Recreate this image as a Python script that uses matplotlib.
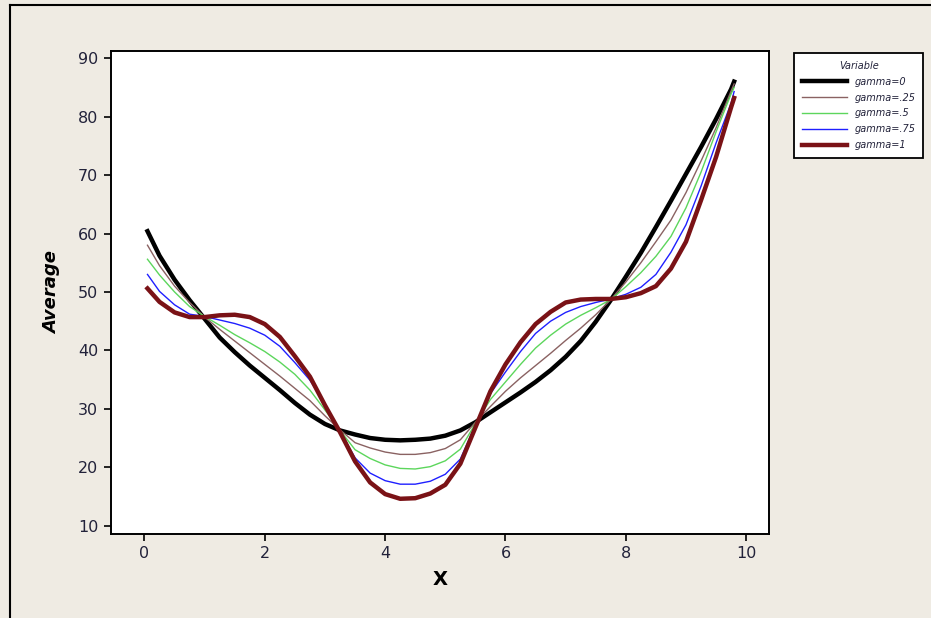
import numpy as np
import matplotlib.pyplot as plt
from matplotlib.lines import Line2D

# values
x = [0.05, 0.25, 0.5, 0.75, 1.0, 1.25, 1.5, 1.75, 2.0, 2.25, 2.5, 2.75, 3.0, 3.25,
     3.5, 3.75, 4.0, 4.25, 4.5, 4.75, 5.0, 5.25, 5.5, 5.75, 6.0, 6.25, 6.5, 6.75,
     7.0, 7.25, 7.5, 7.75, 8.0, 8.25, 8.5, 8.75, 9.0, 9.25, 9.5, 9.75, 9.8]

gamma_0 = [60.4, 56.2, 52.1, 48.6, 45.4, 42.2, 39.7, 37.4, 35.3, 33.2, 31.0, 29.0, 27.4, 26.3,
           25.6, 25.0, 24.7, 24.6, 24.7, 24.9, 25.4, 26.3, 27.7, 29.4, 31.1, 32.8, 34.6, 36.6,
           38.9, 41.6, 44.9, 48.6, 52.6, 56.7, 61.1, 65.6, 70.2, 74.8, 79.6, 84.7, 86.0]
gamma_25 = [58.0, 54.5, 51.0, 48.2, 45.7, 43.6, 41.6, 39.6, 37.6, 35.6, 33.5, 31.4, 28.8, 26.4,
            24.2, 23.3, 22.6, 22.2, 22.2, 22.5, 23.2, 24.7, 27.7, 30.4, 33.0, 35.3, 37.4, 39.5,
            41.7, 43.8, 46.1, 48.7, 51.7, 55.0, 58.6, 62.3, 67.0, 72.4, 78.1, 84.4, 85.6]
gamma_5 = [55.6, 52.9, 50.0, 47.5, 45.8, 44.3, 42.7, 41.3, 39.8, 38.0, 35.9, 33.2, 29.8, 26.3,
           23.0, 21.5, 20.4, 19.8, 19.7, 20.1, 21.1, 23.1, 27.5, 31.6, 34.6, 37.6, 40.4, 42.6,
           44.5, 46.0, 47.3, 48.7, 50.9, 53.3, 56.1, 59.5, 64.4, 70.5, 77.4, 83.9, 85.0]
gamma_75 = [53.0, 50.1, 47.8, 46.2, 45.8, 45.2, 44.6, 43.8, 42.6, 40.7, 37.9, 34.9, 30.8, 26.2,
            21.6, 19.0, 17.7, 17.1, 17.1, 17.6, 18.8, 21.4, 27.2, 32.6, 36.3, 39.8, 42.9, 45.0,
            46.5, 47.5, 48.2, 48.8, 49.6, 50.8, 53.0, 56.8, 61.5, 68.1, 75.5, 82.3, 84.3]
gamma_1 = [50.6, 48.3, 46.5, 45.7, 45.7, 46.0, 46.1, 45.7, 44.5, 42.3, 39.0, 35.5, 30.6, 26.0,
           21.0, 17.4, 15.4, 14.6, 14.7, 15.5, 17.0, 20.6, 26.8, 33.0, 37.6, 41.4, 44.5, 46.6,
           48.2, 48.7, 48.8, 48.8, 49.1, 49.8, 51.0, 54.0, 58.6, 65.7, 73.1, 81.6, 83.2]

labels = ["gamma=0", "gamma=.25", "gamma=.5", "gamma=.75", "gamma=1"]
series = [gamma_0, gamma_25, gamma_5, gamma_75, gamma_1]
colors = ["black", "#8a6262", "#5cd65c", "#1f1fff", "#7a1216"]
widths = [3.2, 1.0, 1.0, 1.0, 3.2]

bg = "#efebe3"
tick_color = "#22223a"

fig = plt.figure(figsize=(9.31, 6.18), dpi=100, facecolor=bg)
ax = fig.add_axes([0.119, 0.136, 0.707, 0.782])
ax.set_facecolor("white")

for ys, lab, c, w in zip(series, labels, colors, widths):
    ax.plot(x, ys, color=c, lw=w, label=lab, solid_joinstyle="round")

ax.set_xlim(-0.56, 10.38)
ax.set_ylim(8.58, 91.3)
ax.set_xticks([0, 2, 4, 6, 8, 10])
ax.set_yticks([10, 20, 30, 40, 50, 60, 70, 80, 90])
ax.tick_params(direction="out", length=5, width=1.2, colors="black",
               labelcolor=tick_color, labelsize=11.5, pad=4)
for s in ax.spines.values():
    s.set_linewidth(1.4)

ax.set_xlabel("X", fontsize=14, fontweight="bold", labelpad=6)
ax.set_ylabel("Average", fontsize=13, fontweight="bold", style="italic", labelpad=12)

leg = fig.legend(loc="upper left", bbox_to_anchor=(0.848, 0.922), title="Variable",
                 fontsize=7, title_fontsize=7, frameon=True, fancybox=False, framealpha=1,
                 edgecolor="black", handlelength=4.6, borderpad=0.8, labelspacing=0.6,
                 handletextpad=0.8, alignment="center")
leg.get_frame().set_linewidth(1.3)
for t in leg.get_texts():
    t.set_style("italic")
    t.set_color(tick_color)
leg.get_title().set_style("italic")
leg.get_title().set_color(tick_color)

# outer border of the graph window
fig.add_artist(Line2D([9.5 / 931, 9.5 / 931], [0.0, 1 - 4.5 / 618], color="black", lw=1.5))
fig.add_artist(Line2D([9.5 / 931, 1.0], [1 - 4.5 / 618, 1 - 4.5 / 618], color="black", lw=1.5))

plt.savefig("out.png", dpi=100, facecolor=bg)
